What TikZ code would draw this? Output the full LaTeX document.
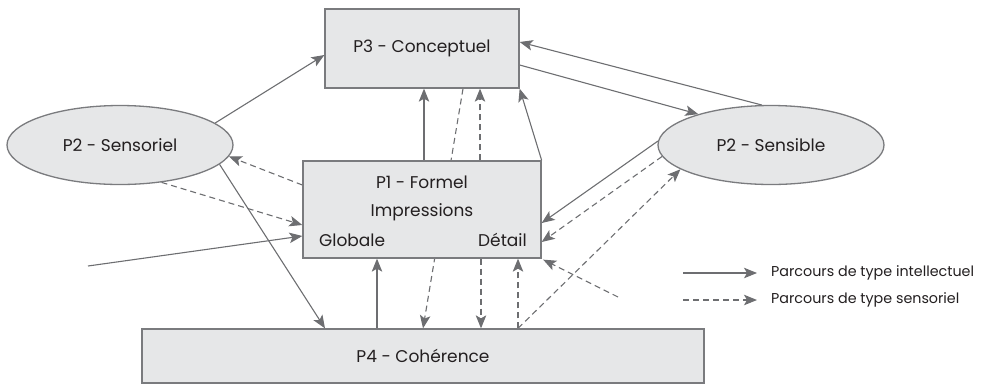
\documentclass[tikz,border=0pt]{standalone}
\usepackage{fontspec}
\setmainfont{Poppins}
\usetikzlibrary{arrows.meta,shapes.geometric,backgrounds}
\definecolor{boxfill}{HTML}{E6E7E8}
\definecolor{boxline}{HTML}{7A7B7E}
\definecolor{conn}{HTML}{6D6E71}
\definecolor{txt}{HTML}{231F20}
\tikzset{
  box/.style={draw=boxline, fill=boxfill, line width=1.3pt, inner sep=0pt, text=txt,
     font=\fontsize{17}{20}\selectfont},
  oval/.style={ellipse, draw=boxline, fill=boxfill, line width=1.3pt, inner sep=0pt,
     minimum width=226pt, minimum height=79pt, text=txt, font=\fontsize{17}{20}\selectfont},
  lbl/.style={inner sep=0pt, text=txt, font=\fontsize{17}{20}\selectfont},
  legtxt/.style={inner sep=0pt, anchor=west, text=txt, font=\fontsize{14.3}{17}\selectfont},
  intel/.style={draw=conn, line width=1.1pt, -{Stealth[length=13pt,width=10.5pt,inset=3pt]}},
  sens/.style={intel, dash pattern=on 6pt off 4pt},
}
\begin{document}
\begin{tikzpicture}[x=1pt,y=-1pt]
\useasboundingbox (0,0) rectangle (996,384);
% nodes
\node[box, minimum width=194pt, minimum height=79pt] (p3) at (422,48.5) {P3 - Conceptuel};
\node[box, minimum width=238pt, minimum height=97pt] (p1) at (422,209.5) {};
\node[box, minimum width=562pt, minimum height=54pt] (p4) at (423,356) {P4 - Cohérence};
\node[oval] (sensoriel) at (120,145) {P2 - Sensoriel};
\node[oval] (sensible) at (771,145) {P2 - Sensible};
\node[lbl, anchor=base] (p1a) at (422,188) {P1 - Formel};
\node[lbl, anchor=base] (p1b) at (422,216) {Impressions};
\node[lbl, anchor=base west] (p1c) at (319,246) {Globale};
\node[lbl, anchor=base east] (p1d) at (527,246) {Détail};
% free ends
\coordinate (freeL) at (88,266);
\coordinate (freeR) at (618,297);
% legend
\coordinate (legA) at (683,273);
\coordinate (legB) at (757,273);
\coordinate (legC) at (683,300);
\coordinate (legD) at (757,300);
\node[legtxt] (legI) at (771,273) {Parcours de type intellectuel};
\node[legtxt] (legS) at (771,300) {Parcours de type sensoriel};
\begin{pgfonlayer}{background}
\draw[intel] (sensoriel.13.6) -- ([yshift=-6.5pt]p3.west);
\draw[intel] ([yshift=-16.5pt]p3.east) -- (sensible.157);
\draw[intel] (sensible.103) -- ([yshift=6.5pt]p3.east);
\draw[intel] ([xshift=2pt]p1.north) -- ([xshift=2pt]p3.south);
\draw[sens] ([xshift=41pt]p3.south) -- (p4.north);
\draw[sens] ([xshift=58pt]p1.north) -- ([xshift=58pt]p3.south);
\draw[intel] (p1.north east) -- (p3.south east);
\draw[intel] ([xshift=-46pt]p4.north) -- ([xshift=-45pt]p1.south);
\draw[sens] ([xshift=59pt]p1.south) -- ([xshift=58pt]p4.north);
\draw[sens] ([xshift=95pt]p4.north) -- ([xshift=96pt]p1.south);
\draw[sens] ([xshift=95pt]p4.north) -- (sensible.195);
\draw[sens] (freeR) -- ([xshift=1.5pt,yshift=-1pt]p1.south east);
\draw[intel] (freeL) -- ([yshift=-26.5pt]p1.west);
\draw[intel] (sensoriel.-11) -- ([xshift=-98pt]p4.north);
\draw[sens] ([yshift=24.5pt]p1.west) -- (sensoriel.-6);
\draw[sens] (sensoriel.-42) -- ([yshift=-15.5pt]p1.west);
\draw[intel] (sensible.178) -- ([yshift=-13.5pt]p1.east);
\draw[sens] (sensible.-174) -- ([yshift=-32.5pt]p1.east);
\draw[intel] (legA) -- (legB);
\draw[sens] (legC) -- (legD);
\end{pgfonlayer}
\end{tikzpicture}
\end{document}
